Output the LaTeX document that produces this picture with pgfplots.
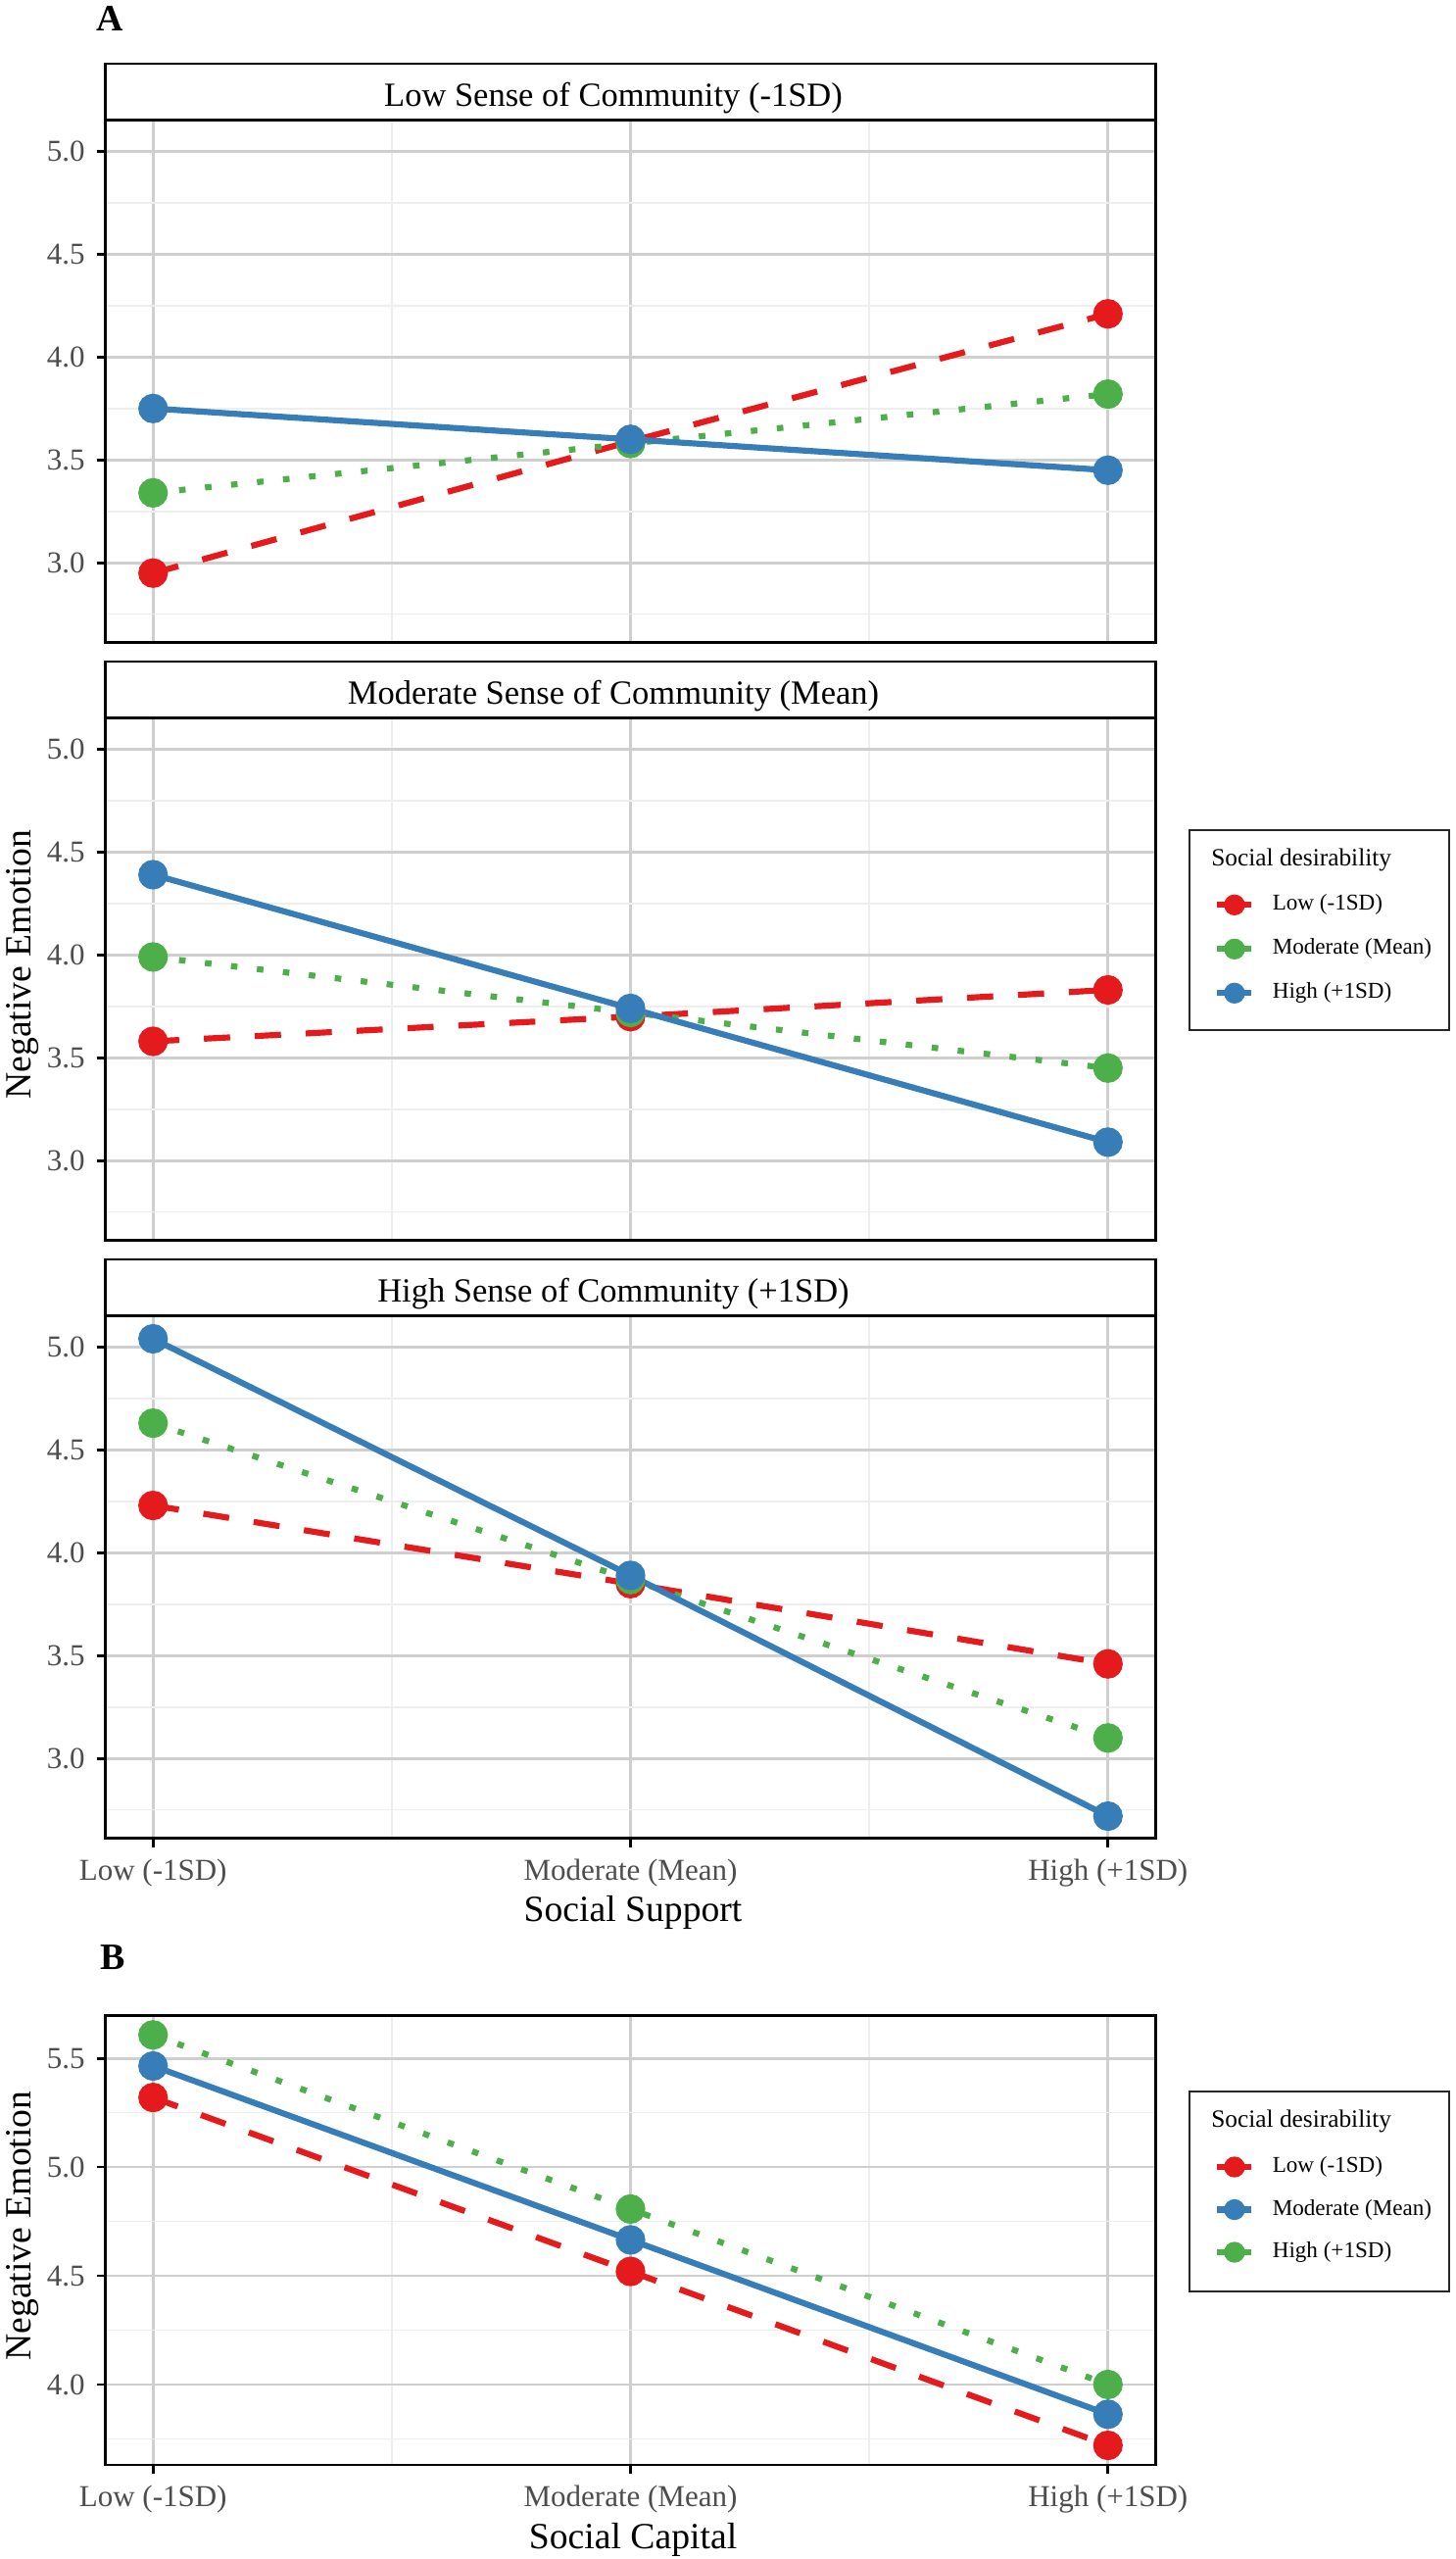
\documentclass[border=0pt]{standalone}
\usepackage{pgfplots}
\pgfplotsset{compat=1.18}
\usepackage{fontspec}
\setmainfont{Liberation Serif}
\definecolor{cRed}{HTML}{E41A1C}
\definecolor{cGreen}{HTML}{4DAF4A}
\definecolor{cBlue}{HTML}{377EB8}
\definecolor{gMajor}{HTML}{CFCFCF}
\definecolor{gMinor}{HTML}{EEEEEE}
\definecolor{tickText}{HTML}{4D4D4D}
\newcommand{\tickfont}{\fontsize{9.3pt}{11pt}\selectfont}
\newcommand{\stripfont}{\fontsize{10.35pt}{12pt}\selectfont}
\newcommand{\titlefont}{\fontsize{11.3pt}{13pt}\selectfont}
\newcommand{\legfont}{\fontsize{6.93pt}{8pt}\selectfont}
\newcommand{\legtitlefont}{\fontsize{7.6pt}{9pt}\selectfont}

\pgfplotsset{
  facet/.style={
    scale only axis, width=321.6pt,
    xmin=0.9, xmax=3.1,
    xtick={1,2,3}, minor xtick={1.5,2.5},
    grid=both,
    major grid style={draw=gMajor, line width=0.8pt},
    minor grid style={draw=gMinor, line width=0.45pt},
    axis line style={draw=black, line width=0.8pt},
    tick align=outside, xtick pos=left, ytick pos=left,
    major tick length=2.7pt, minor tick length=0pt,
    tick style={draw=black, line width=0.8pt},
    tick label style={font=\tickfont, text=tickText},
    /pgf/number format/assume math mode=true,
    yticklabel={\pgfmathprintnumber[fixed,fixed zerofill,precision=1]{\tick}},
    legend image code/.code={
      \draw[solid, line width=1.85pt] (0pt,0pt) -- (10.5pt,0pt);
      \fill (5.25pt,0pt) circle (3pt);
    },
    legend cell align=left,
    legend style={draw=none, fill=none, inner sep=0pt, outer sep=0pt,
      row sep=6.9pt, column sep=5.5pt, anchor=north west,
      nodes={inner sep=0pt, outer sep=0pt, text height=5pt, text depth=1.6pt, font=\legfont}},
  },
  facetA/.style={facet, height=159.9pt, ymin=2.612, ymax=5.151,
    ytick={3,3.5,4,4.5,5}, minor ytick={2.75,3.25,3.75,4.25,4.75}},
  noxlab/.style={xticklabels={}, major x tick style={draw=none}},
  catlab/.style={xticklabels={Low (-1SD), Moderate (Mean), High (+1SD)}},
  sRed/.style={color=cRed, line width=1.85pt, dash pattern=on 8pt off 7.6pt,
    mark=*, mark size=3.6pt, mark options={solid, draw=none, fill=cRed}},
  sGreen/.style={color=cGreen, line width=1.85pt, dash pattern=on 2pt off 6pt,
    mark=*, mark size=3.6pt, mark options={solid, draw=none, fill=cGreen}},
  sBlue/.style={color=cBlue, line width=1.85pt, solid,
    mark=*, mark size=3.6pt, mark options={solid, draw=none, fill=cBlue}},
}

\begin{document}
\begin{tikzpicture}
\path[use as bounding box] (0pt,0pt) rectangle (445.8pt,-783.3pt);

% Panel A1: Low Sense of Community
\begin{axis}[facetA, noxlab, at={(32.25pt,-36.81pt)}, anchor=north west]
\addplot[sRed] coordinates {(1,2.95) (2,3.59) (3,4.21)};
\addplot[sGreen] coordinates {(1,3.34) (2,3.58) (3,3.82)};
\addplot[sBlue] coordinates {(1,3.75) (2,3.60) (3,3.45)};
\end{axis}

% Panel A2: Moderate Sense of Community
\begin{axis}[facetA, noxlab, at={(32.25pt,-219.81pt)}, anchor=north west,
  legend style={at={(1.0558,0.6630)}}]
\addplot[sRed, forget plot] coordinates {(1,3.58) (2,3.70) (3,3.83)};
\addplot[sGreen, forget plot] coordinates {(1,3.99) (2,3.72) (3,3.45)};
\addplot[sBlue, forget plot] coordinates {(1,4.39) (2,3.74) (3,3.09)};
\addlegendimage{color=cRed}
\addlegendentry{Low (-1SD)}
\addlegendimage{color=cGreen}
\addlegendentry{Moderate (Mean)}
\addlegendimage{color=cBlue}
\addlegendentry{High (+1SD)}
\end{axis}

% Panel A3: High Sense of Community
\begin{axis}[facetA, catlab, at={(32.25pt,-402.81pt)}, anchor=north west]
\addplot[sRed] coordinates {(1,4.23) (2,3.85) (3,3.46)};
\addplot[sGreen] coordinates {(1,4.63) (2,3.87) (3,3.10)};
\addplot[sBlue] coordinates {(1,5.04) (2,3.89) (3,2.72)};
\end{axis}

% Panel B
\begin{axis}[facet, catlab, height=137.55pt, ymin=3.630, ymax=5.697,
  ytick={4,4.5,5,5.5}, minor ytick={3.75,4.25,4.75,5.25},
  at={(32.25pt,-616.95pt)}, anchor=north west,
  legend style={at={(1.0558,0.6870)}, row sep=6.45pt}]
\addplot[sRed, forget plot] coordinates {(1,5.32) (2,4.52) (3,3.72)};
\addplot[sBlue, forget plot] coordinates {(1,5.465) (2,4.665) (3,3.863)};
\addplot[sGreen, forget plot] coordinates {(1,5.608) (2,4.807) (3,4.00)};
\addlegendimage{color=cRed}
\addlegendentry{Low (-1SD)}
\addlegendimage{color=cBlue}
\addlegendentry{Moderate (Mean)}
\addlegendimage{color=cGreen}
\addlegendentry{High (+1SD)}
\end{axis}

\begin{scope}[x=0.3pt, y=-0.3pt]
  % strips
  \foreach \T/\lab in {122.7/{Low Sense of Community (-1SD)},
                       732.7/{Moderate Sense of Community (Mean)},
                       1342.7/{High Sense of Community (+1SD)}}{
    \draw[black, line width=0.8pt, fill=white] (107.5,\T) rectangle (1179.5,\T-57.7);
    \node[anchor=base, inner sep=0pt, font=\stripfont] at (626,\T-14.4) {\lab};
  }
  % panel letters
  \node[anchor=base west, inner sep=0pt, font=\bfseries\fontsize{11.4pt}{13pt}\selectfont] at (98,32) {A};
  \node[anchor=base west, inner sep=0pt, font=\bfseries\fontsize{11.4pt}{13pt}\selectfont] at (102,2009) {B};
  % axis titles
  \node[rotate=90, anchor=base, inner sep=0pt, font=\titlefont] at (32,984) {Negative Emotion};
  \node[anchor=base, inner sep=0pt, font=\titlefont] at (646,1960) {Social Support};
  \node[rotate=90, anchor=base, inner sep=0pt, font=\titlefont] at (32,2271) {Negative Emotion};
  \node[anchor=base, inner sep=0pt, font=\titlefont] at (646,2600) {Social Capital};
  % legend boxes and titles
  \draw[black!85, line width=0.6pt] (1214.3,847.3) rectangle (1479,1051);
  \node[anchor=base west, inner sep=0pt, font=\legtitlefont] at (1235.7,883.5) {Social desirability};
  \draw[black!85, line width=0.6pt] (1214.3,2134) rectangle (1479,2338.3);
  \node[anchor=base west, inner sep=0pt, font=\legtitlefont] at (1235.7,2170) {Social desirability};
\end{scope}
\end{tikzpicture}
\end{document}
